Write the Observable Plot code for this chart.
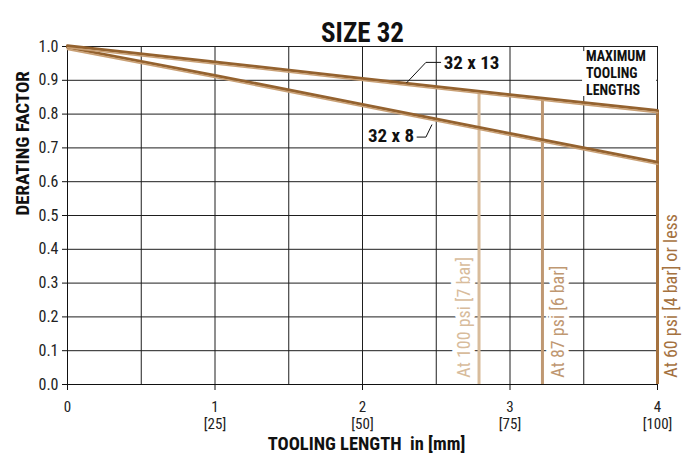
<!DOCTYPE html>
<html><head><meta charset="utf-8">
<script src="https://cdn.jsdelivr.net/npm/d3@7"></script>
<script src="https://cdn.jsdelivr.net/npm/@observablehq/plot@0.6"></script>
<style>body{margin:0;background:#fff}</style>
</head><body><div id="chart"></div>
<script>
// ---- data ----
const lengthIn = [0, 1, 2, 3, 4];
const factor32x13 = [1.0, 0.952, 0.903, 0.855, 0.808];
const factor32x8 = [0.995, 0.912, 0.826, 0.740, 0.655];
const seriesNames = ["32 x 13", "32 x 8"];

const pressureLabels = ["At 100 psi [7 bar]", "At 87 psi [6 bar]", "At 60 psi [4 bar] or less"];
const pressureMaxLength = [2.79, 3.22, 4.0];
const pressureMaxFactor = [0.862, 0.843, 0.808];
const pressureColors = ["#d8bc9c", "#bf9872", "#a5723f"];

const yTicks = [0, 0.1, 0.2, 0.3, 0.4, 0.5, 0.6, 0.7, 0.8, 0.9, 1.0];
const xTicks = [0, 1, 2, 3, 4];
const xTickLabels = ["0", "1\n[25]", "2\n[50]", "3\n[75]", "4\n[100]"];
const xGrid = [0.5, 1, 1.5, 2, 2.5, 3, 3.5, 4];

// annotations
const leader13x = [2.30, 2.43, 2.53];
const leader13y = [0.893, 0.953, 0.953];
const leader8x = [2.37, 2.43, 2.47];
const leader8y = [0.732, 0.732, 0.768];
const seriesLabelX = [2.55, 2.35];
const seriesLabelY = [0.952, 0.735];
const maxBox = {x1: 3.492, x2: 3.994, y1: 0.852, y2: 0.985};
const maxTextLines = ["MAXIMUM", "TOOLING", "LENGTHS"];
const maxTextY = [0.969, 0.920, 0.871];

// ---- tables ----
const curves = seriesNames.flatMap((s, k) =>
  lengthIn.map((x, i) => ({series: s, x, y: (k === 0 ? factor32x13 : factor32x8)[i]})));
const pressures = pressureLabels.map((label, i) => ({
  label, x: pressureMaxLength[i], y: pressureMaxFactor[i], color: pressureColors[i]
}));
const leader13 = leader13x.map((x, i) => ({x, y: leader13y[i]}));
const leader8 = leader8x.map((x, i) => ({x, y: leader8y[i]}));
const seriesLabels = seriesNames.map((s, i) => ({s, x: seriesLabelX[i], y: seriesLabelY[i]}));
const maxLines = maxTextLines.map((t, i) => ({t, y: maxTextY[i]}));

const labelOpts = {x: "x", y: 0.02, text: "label", rotate: -90, textAnchor: "start", fill: "color",
  fontSize: 18, stroke: "white", strokeWidth: 10};
const seriesOpts = {x: "x", y: "y", text: "s", fontSize: 19, fontWeight: "bold", fill: "#111"};

const chart = Plot.plot({
  width: 682, height: 461,
  marginTop: 46, marginBottom: 77, marginLeft: 67, marginRight: 25,
  style: "font-family: Roboto, 'Open Sans', sans-serif; font-stretch: condensed; font-size: 16px; color: #222; background: white;",
  x: {domain: [0, 4]},
  y: {domain: [0, 1]},
  marks: [
    Plot.gridY(yTicks, {stroke: "#1e1e1e", strokeOpacity: 1}),
    Plot.gridX(xGrid, {stroke: "#1e1e1e", strokeOpacity: 1}),
    Plot.rect([maxBox], {x1: "x1", x2: "x2", y1: "y1", y2: "y2", fill: "white"}),
    Plot.ruleX([0], {stroke: "#111"}),
    Plot.ruleY([0], {stroke: "#111"}),
    Plot.axisY(yTicks, {tickFormat: d3.format(".1f"), tickSize: 5, tickPadding: 4, label: null, fontSize: 16, stroke: "#111", fill: "#222"}),
    Plot.axisX(xTicks, {tickFormat: d => xTickLabels[xTicks.indexOf(d)], tickSize: 6, tickPadding: 10, label: null, fontSize: 15, lineHeight: 1.1, stroke: "#111", fill: "#222"}),
    Plot.text([pressures[0]], {...labelOpts, dx: -15}),
    Plot.text([pressures[1]], {...labelOpts, dx: 16}),
    Plot.text([pressures[2]], {...labelOpts, dx: 14}),
    Plot.ruleX(pressures, {x: "x", y1: 0, y2: "y", stroke: "color", strokeWidth: 3}),
    Plot.line(curves, {x: "x", y: "y", z: "series", stroke: "#94622f", strokeWidth: 3, dy: -0.8}),
    Plot.line(curves, {x: "x", y: "y", z: "series", stroke: "#c9a075", strokeWidth: 1.6, dy: 1.2}),
    Plot.line(leader13, {x: "x", y: "y", stroke: "#111", strokeWidth: 1}),
    Plot.line(leader8, {x: "x", y: "y", stroke: "#111", strokeWidth: 1}),
    Plot.text([seriesLabels[0]], {...seriesOpts, textAnchor: "start"}),
    Plot.text([seriesLabels[1]], {...seriesOpts, textAnchor: "end"}),
    Plot.text(maxLines, {x: 3.515, y: "y", text: "t", textAnchor: "start", fontSize: 14, fontWeight: "bold", fill: "#111"}),
    Plot.text(["SIZE 32"], {frameAnchor: "top", dy: -24, fontSize: 27, fontWeight: "bold", fill: "#111"}),
    Plot.text(["DERATING FACTOR"], {frameAnchor: "left", dx: -45, rotate: -90, fontSize: 19, fontWeight: "bold", fill: "#111"}),
    Plot.text(["TOOLING LENGTH  in [mm]"], {frameAnchor: "bottom", dy: 65, dx: 4, fontSize: 18.5, fontWeight: "bold", fill: "#111"})
  ]
});
document.getElementById("chart").appendChild(chart);
</script>
</body></html>
